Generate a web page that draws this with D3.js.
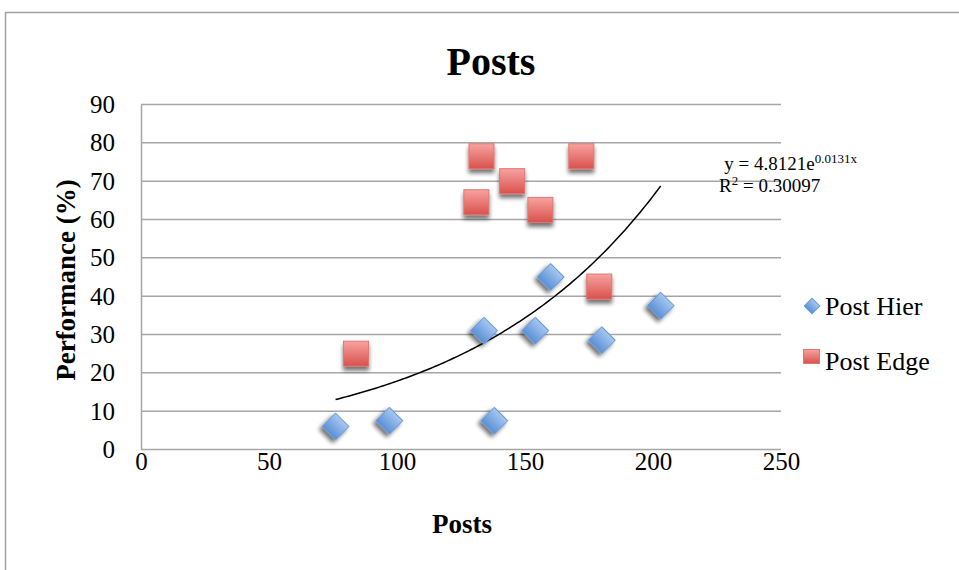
<!DOCTYPE html>
<html>
<head>
<meta charset="utf-8">
<script src="https://cdn.jsdelivr.net/npm/d3@7"></script>
<style>
  body { margin: 0; background: #fff; }
  text { font-family: "Liberation Serif", "Times New Roman", serif; fill: #000; }
</style>
</head>
<body>
<div id="vis"></div>
<script>
const FRAME_HEIGHT = 570;
const FRAME_WIDTH = 959;
const MARGINS = {left: 141, right: 178, top: 104.5, bottom: 120.5};

const VIS_HEIGHT = FRAME_HEIGHT - MARGINS.top - MARGINS.bottom;
const VIS_WIDTH = FRAME_WIDTH - MARGINS.left - MARGINS.right;

// data
const HIER_POSTS = [76, 97, 138, 134, 154, 160, 180, 203];
const HIER_PERF = [6, 7.5, 7.5, 31, 31, 45, 28.5, 37.5];
const EDGE_POSTS = [84, 131, 133, 145, 156, 172, 179];
const EDGE_PERF = [25, 64.5, 76.5, 70, 62.5, 76.5, 42.5];
const X_TICKS = [0, 50, 100, 150, 200, 250];
const Y_TICKS = [0, 10, 20, 30, 40, 50, 60, 70, 80, 90];

// exponential trendline y = a * e^(b x)
const TREND_A = 4.8121;
const TREND_B = 0.0131;
const TREND_RANGE = [76, 203];

const X_SCALE = d3.scaleLinear()
                    .domain([0, 250])
                    .range([0, VIS_WIDTH]);

const Y_SCALE = d3.scaleLinear()
                    .domain([90, 0])
                    .range([0, VIS_HEIGHT]);

const SVG = d3.select("#vis")
              .append("svg")
                .attr("height", FRAME_HEIGHT)
                .attr("width", FRAME_WIDTH);

// gradients + shadow for the markers
const DEFS = SVG.append("defs");

const blue = DEFS.append("linearGradient").attr("id", "gBlue")
                 .attr("x1", 0).attr("y1", 0).attr("x2", 0).attr("y2", 1);
blue.append("stop").attr("offset", "0%").attr("stop-color", "#a7c8f0");
blue.append("stop").attr("offset", "100%").attr("stop-color", "#5a8fd6");

const red = DEFS.append("linearGradient").attr("id", "gRed")
                .attr("x1", 0).attr("y1", 0).attr("x2", 0).attr("y2", 1);
red.append("stop").attr("offset", "0%").attr("stop-color", "#f7a3a1");
red.append("stop").attr("offset", "100%").attr("stop-color", "#d9514c");

const shadow = DEFS.append("filter").attr("id", "shadow")
                   .attr("x", "-50%").attr("y", "-50%")
                   .attr("width", "200%").attr("height", "200%");
shadow.append("feGaussianBlur").attr("in", "SourceAlpha").attr("stdDeviation", 2);
shadow.append("feOffset").attr("dy", 4).attr("result", "off");
shadow.append("feComponentTransfer").append("feFuncA")
      .attr("type", "linear").attr("slope", 0.55);
const merge = shadow.append("feMerge");
merge.append("feMergeNode");
merge.append("feMergeNode").attr("in", "SourceGraphic");

// outer chart border
SVG.append("rect")
    .attr("x", 5.5).attr("y", 12.5)
    .attr("width", 1000).attr("height", 1000)
    .attr("fill", "none")
    .attr("stroke", "#a0a0a0")
    .attr("stroke-width", 1.5);

const PLOT = SVG.append("g")
                .attr("transform", "translate(" + MARGINS.left + "," + MARGINS.top + ")");

// horizontal gridlines
PLOT.selectAll(".grid")
    .data(Y_TICKS)
    .enter()
    .append("line")
      .attr("x1", 0)
      .attr("x2", VIS_WIDTH)
      .attr("y1", (d) => Y_SCALE(d))
      .attr("y2", (d) => Y_SCALE(d))
      .attr("stroke", "#a6a6a6")
      .attr("stroke-width", 1.5);

// y axis
PLOT.append("g")
    .call(d3.axisLeft(Y_SCALE).tickValues(Y_TICKS).tickSize(0).tickPadding(26))
    .call((g) => g.select(".domain").attr("stroke", "#a6a6a6").attr("stroke-width", 1.5))
    .call((g) => g.selectAll("text")
                  .attr("font-size", "25px")
                  .attr("font-family", "Liberation Serif"));

// x axis
PLOT.append("g")
    .attr("transform", "translate(0," + VIS_HEIGHT + ")")
    .call(d3.axisBottom(X_SCALE).tickValues(X_TICKS).tickSize(0).tickPadding(3))
    .call((g) => g.select(".domain").remove())
    .call((g) => g.selectAll("text")
                  .attr("font-size", "25px")
                  .attr("font-family", "Liberation Serif"));

// trendline
const trendData = d3.range(TREND_RANGE[0], TREND_RANGE[1] + 0.5, 1);
PLOT.append("path")
    .datum(trendData)
    .attr("fill", "none")
    .attr("stroke", "#000")
    .attr("stroke-width", 1.5)
    .attr("d", d3.line()
                 .x((d) => X_SCALE(d))
                 .y((d) => Y_SCALE(TREND_A * Math.exp(TREND_B * d))));

const diamond = d3.symbol().type(d3.symbolSquare).size(19 * 19);

// Post Hier diamonds
PLOT.selectAll(".hier")
    .data(HIER_POSTS)
    .enter()
    .append("path")
      .attr("d", diamond)
      .attr("transform", (d, i) => "translate(" + X_SCALE(d) + "," + Y_SCALE(HIER_PERF[i]) + ") rotate(45)")
      .attr("fill", "url(#gBlue)")
      .attr("stroke", "#6a9ad8")
      .attr("stroke-width", 1)
      .attr("filter", "url(#shadow)");

// Post Edge squares
PLOT.selectAll(".edge")
    .data(EDGE_POSTS)
    .enter()
    .append("rect")
      .attr("x", (d) => X_SCALE(d) - 12.5)
      .attr("y", (d, i) => Y_SCALE(EDGE_PERF[i]) - 12.5)
      .attr("width", 25)
      .attr("height", 25)
      .attr("fill", "url(#gRed)")
      .attr("stroke", "#e07672")
      .attr("stroke-width", 1)
      .attr("filter", "url(#shadow)");

// trendline label
const eq = SVG.append("text")
              .attr("x", 857)
              .attr("y", 170)
              .attr("text-anchor", "end")
              .attr("font-size", "19px");
eq.append("tspan").text("y = " + TREND_A + "e");
eq.append("tspan").attr("font-size", "13px").attr("dy", -7).text(TREND_B + "x");

const r2 = SVG.append("text")
              .attr("x", 719)
              .attr("y", 192)
              .attr("font-size", "19px");
r2.append("tspan").text("R");
r2.append("tspan").attr("font-size", "13px").attr("dy", -7).text("2");
r2.append("tspan").attr("dy", 7).text(" = 0.30097");

// title
SVG.append("text")
    .attr("x", 491)
    .attr("y", 75)
    .attr("text-anchor", "middle")
    .attr("font-size", "40px")
    .attr("font-weight", "bold")
    .text("Posts");

// axis titles
SVG.append("text")
    .attr("x", 462)
    .attr("y", 533)
    .attr("text-anchor", "middle")
    .attr("font-size", "27px")
    .attr("font-weight", "bold")
    .text("Posts");

SVG.append("text")
    .attr("transform", "translate(75,280) rotate(-90)")
    .attr("text-anchor", "middle")
    .attr("font-size", "27px")
    .attr("font-weight", "bold")
    .text("Performance (%)");

// legend
const LEGEND = SVG.append("g");

LEGEND.append("path")
    .attr("d", d3.symbol().type(d3.symbolSquare).size(11 * 11))
    .attr("transform", "translate(812,306) rotate(45)")
    .attr("fill", "url(#gBlue)")
    .attr("stroke", "#6a9ad8");

LEGEND.append("text")
    .attr("x", 825)
    .attr("y", 315)
    .attr("font-size", "26px")
    .text("Post Hier");

LEGEND.append("rect")
    .attr("x", 803.5).attr("y", 349.5)
    .attr("width", 16).attr("height", 14)
    .attr("fill", "url(#gRed)")
    .attr("stroke", "#e07672");

LEGEND.append("text")
    .attr("x", 825)
    .attr("y", 370)
    .attr("font-size", "26px")
    .text("Post Edge");
</script>
</body>
</html>
